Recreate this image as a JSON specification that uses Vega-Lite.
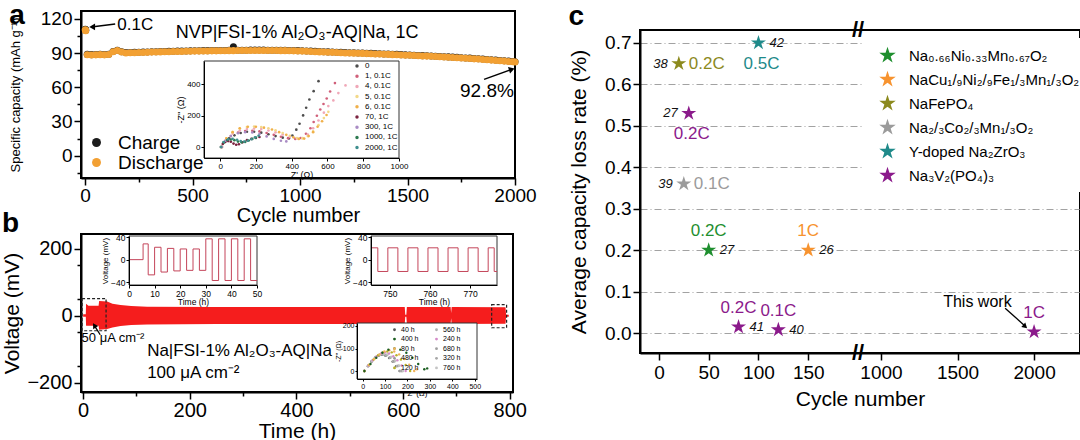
{
  "$schema": "https://vega.github.io/schema/vega-lite/v6.json",
  "background": "white",
  "padding": {"left": 0, "top": 0, "right": 0, "bottom": 0},
  "datasets": {
    "cap": [
      {"cycle":1,"Charge":111,"Discharge":110.5},{"cycle":2,"Charge":110.6,"Discharge":110},{"cycle":3,"Charge":110.2,"Discharge":109.6},
      {"cycle":10,"Charge":88.9,"Discharge":88.6},{"cycle":30,"Charge":88.7,"Discharge":88.4},{"cycle":50,"Charge":88.8,"Discharge":88.5},{"cycle":70,"Charge":89,"Discharge":88.7},{"cycle":90,"Charge":88.8,"Discharge":88.5},{"cycle":110,"Charge":89.1,"Discharge":88.8},{"cycle":130,"Charge":91.5,"Discharge":91.2},{"cycle":150,"Charge":92.6,"Discharge":92.3},{"cycle":170,"Charge":91.3,"Discharge":91},{"cycle":190,"Charge":90.5,"Discharge":90.2},
      {"cycle":210,"Charge":90.6,"Discharge":90.3},{"cycle":230,"Charge":90.7,"Discharge":90.4},{"cycle":250,"Charge":90.8,"Discharge":90.5},{"cycle":270,"Charge":90.9,"Discharge":90.6},{"cycle":290,"Charge":91,"Discharge":90.7},{"cycle":310,"Charge":91.2,"Discharge":90.9},{"cycle":330,"Charge":91.3,"Discharge":91},{"cycle":350,"Charge":91.4,"Discharge":91.1},{"cycle":370,"Charge":91.5,"Discharge":91.2},{"cycle":390,"Charge":91.6,"Discharge":91.3},
      {"cycle":410,"Charge":91.7,"Discharge":91.4},{"cycle":430,"Charge":91.8,"Discharge":91.5},{"cycle":450,"Charge":91.8,"Discharge":91.5},{"cycle":470,"Charge":91.9,"Discharge":91.6},{"cycle":490,"Charge":92,"Discharge":91.7},{"cycle":510,"Charge":92.1,"Discharge":91.8},{"cycle":530,"Charge":92.1,"Discharge":91.8},{"cycle":550,"Charge":92.2,"Discharge":91.9},{"cycle":570,"Charge":92.2,"Discharge":91.9},{"cycle":590,"Charge":92.3,"Discharge":92},
      {"cycle":610,"Charge":92.3,"Discharge":92},{"cycle":630,"Charge":92.4,"Discharge":92.1},{"cycle":650,"Charge":92.4,"Discharge":92.1},{"cycle":670,"Charge":92.5,"Discharge":92.2},{"cycle":690,"Charge":95.5,"Discharge":92.2},{"cycle":710,"Charge":92.6,"Discharge":92.3},{"cycle":730,"Charge":92.6,"Discharge":92.3},{"cycle":750,"Charge":92.6,"Discharge":92.3},{"cycle":770,"Charge":92.7,"Discharge":92.4},{"cycle":790,"Charge":92.7,"Discharge":92.4},
      {"cycle":810,"Charge":92.7,"Discharge":92.4},{"cycle":830,"Charge":92.7,"Discharge":92.4},{"cycle":850,"Charge":92.6,"Discharge":92.3},{"cycle":870,"Charge":92.6,"Discharge":92.3},{"cycle":890,"Charge":92.6,"Discharge":92.3},{"cycle":910,"Charge":92.5,"Discharge":92.2},{"cycle":930,"Charge":92.5,"Discharge":92.2},{"cycle":950,"Charge":92.4,"Discharge":92.1},{"cycle":970,"Charge":92.3,"Discharge":92},{"cycle":990,"Charge":92.2,"Discharge":91.9},
      {"cycle":1010,"Charge":92.1,"Discharge":91.8},{"cycle":1030,"Charge":91.9,"Discharge":91.6},{"cycle":1050,"Charge":91.8,"Discharge":91.5},{"cycle":1070,"Charge":91.6,"Discharge":91.3},{"cycle":1090,"Charge":91.4,"Discharge":91.1},{"cycle":1110,"Charge":91.3,"Discharge":91},{"cycle":1130,"Charge":91.1,"Discharge":90.8},{"cycle":1150,"Charge":91,"Discharge":90.7},{"cycle":1170,"Charge":90.8,"Discharge":90.5},{"cycle":1190,"Charge":90.7,"Discharge":90.4},
      {"cycle":1210,"Charge":90.5,"Discharge":90.2},{"cycle":1230,"Charge":90.4,"Discharge":90.1},{"cycle":1250,"Charge":90.3,"Discharge":90},{"cycle":1270,"Charge":90.2,"Discharge":89.9},{"cycle":1290,"Charge":90.1,"Discharge":89.8},{"cycle":1310,"Charge":89.9,"Discharge":89.6},{"cycle":1330,"Charge":89.8,"Discharge":89.5},{"cycle":1350,"Charge":89.6,"Discharge":89.3},{"cycle":1370,"Charge":89.5,"Discharge":89.2},{"cycle":1390,"Charge":89.3,"Discharge":89},
      {"cycle":1410,"Charge":89.2,"Discharge":88.9},{"cycle":1430,"Charge":89,"Discharge":88.7},{"cycle":1450,"Charge":88.9,"Discharge":88.6},{"cycle":1470,"Charge":88.7,"Discharge":88.4},{"cycle":1490,"Charge":88.5,"Discharge":88.2},{"cycle":1510,"Charge":88.4,"Discharge":88.1},{"cycle":1530,"Charge":88.2,"Discharge":87.9},{"cycle":1550,"Charge":88,"Discharge":87.7},{"cycle":1570,"Charge":87.8,"Discharge":87.5},{"cycle":1590,"Charge":87.7,"Discharge":87.4},
      {"cycle":1610,"Charge":87.5,"Discharge":87.2},{"cycle":1630,"Charge":87.3,"Discharge":87},{"cycle":1650,"Charge":87.1,"Discharge":86.8},{"cycle":1670,"Charge":86.9,"Discharge":86.6},{"cycle":1690,"Charge":86.7,"Discharge":86.4},{"cycle":1710,"Charge":86.5,"Discharge":86.2},{"cycle":1730,"Charge":86.3,"Discharge":86},{"cycle":1750,"Charge":86,"Discharge":85.7},{"cycle":1770,"Charge":85.8,"Discharge":85.5},{"cycle":1790,"Charge":85.6,"Discharge":85.3},
      {"cycle":1810,"Charge":85.3,"Discharge":85},{"cycle":1830,"Charge":85.1,"Discharge":84.8},{"cycle":1850,"Charge":84.8,"Discharge":84.5},{"cycle":1870,"Charge":84.5,"Discharge":84.2},{"cycle":1890,"Charge":84.2,"Discharge":83.9},{"cycle":1910,"Charge":83.9,"Discharge":83.6},{"cycle":1930,"Charge":83.6,"Discharge":83.3},{"cycle":1950,"Charge":83.3,"Discharge":83},{"cycle":1970,"Charge":83,"Discharge":82.7},{"cycle":1990,"Charge":82.7,"Discharge":82.4},{"cycle":2000,"Charge":82.5,"Discharge":82.2}
    ],
    "nyqA": [
      {"cond":"0","zr":10,"zi":0},{"cond":"0","zr":25,"zi":30},{"cond":"0","zr":50,"zi":55},{"cond":"0","zr":80,"zi":75},{"cond":"0","zr":115,"zi":90},{"cond":"0","zr":150,"zi":98},{"cond":"0","zr":190,"zi":98},{"cond":"0","zr":230,"zi":92},{"cond":"0","zr":270,"zi":82},{"cond":"0","zr":310,"zi":70},{"cond":"0","zr":350,"zi":60},{"cond":"0","zr":385,"zi":55},{"cond":"0","zr":404,"zi":74},{"cond":"0","zr":426,"zi":111},{"cond":"0","zr":444,"zi":149},{"cond":"0","zr":464,"zi":202},{"cond":"0","zr":481,"zi":251},{"cond":"0","zr":499,"zi":304},{"cond":"0","zr":523,"zi":357},{"cond":"0","zr":550,"zi":421},
      {"cond":"1, 0.1C","zr":10,"zi":0},{"cond":"1, 0.1C","zr":30,"zi":40},{"cond":"1, 0.1C","zr":60,"zi":70},{"cond":"1, 0.1C","zr":100,"zi":92},{"cond":"1, 0.1C","zr":140,"zi":102},{"cond":"1, 0.1C","zr":180,"zi":104},{"cond":"1, 0.1C","zr":220,"zi":100},{"cond":"1, 0.1C","zr":260,"zi":90},{"cond":"1, 0.1C","zr":300,"zi":78},{"cond":"1, 0.1C","zr":340,"zi":66},{"cond":"1, 0.1C","zr":380,"zi":57},{"cond":"1, 0.1C","zr":420,"zi":52},{"cond":"1, 0.1C","zr":450,"zi":58},{"cond":"1, 0.1C","zr":480,"zi":85},{"cond":"1, 0.1C","zr":505,"zi":120},{"cond":"1, 0.1C","zr":523,"zi":160},{"cond":"1, 0.1C","zr":541,"zi":200},{"cond":"1, 0.1C","zr":560,"zi":240},{"cond":"1, 0.1C","zr":578,"zi":275},{"cond":"1, 0.1C","zr":596,"zi":310},{"cond":"1, 0.1C","zr":615,"zi":355},{"cond":"1, 0.1C","zr":642,"zi":409},
      {"cond":"4, 0.1C","zr":10,"zi":0},{"cond":"4, 0.1C","zr":35,"zi":50},{"cond":"4, 0.1C","zr":70,"zi":85},{"cond":"4, 0.1C","zr":110,"zi":105},{"cond":"4, 0.1C","zr":150,"zi":115},{"cond":"4, 0.1C","zr":190,"zi":118},{"cond":"4, 0.1C","zr":230,"zi":115},{"cond":"4, 0.1C","zr":270,"zi":106},{"cond":"4, 0.1C","zr":310,"zi":94},{"cond":"4, 0.1C","zr":350,"zi":80},{"cond":"4, 0.1C","zr":390,"zi":66},{"cond":"4, 0.1C","zr":430,"zi":55},{"cond":"4, 0.1C","zr":460,"zi":58},{"cond":"4, 0.1C","zr":490,"zi":80},{"cond":"4, 0.1C","zr":520,"zi":120},{"cond":"4, 0.1C","zr":550,"zi":170},{"cond":"4, 0.1C","zr":580,"zi":220},{"cond":"4, 0.1C","zr":605,"zi":262},{"cond":"4, 0.1C","zr":633,"zi":298},{"cond":"4, 0.1C","zr":661,"zi":345},{"cond":"4, 0.1C","zr":701,"zi":394},
      {"cond":"5, 0.1C","zr":10,"zi":0},{"cond":"5, 0.1C","zr":35,"zi":55},{"cond":"5, 0.1C","zr":70,"zi":95},{"cond":"5, 0.1C","zr":110,"zi":118},{"cond":"5, 0.1C","zr":150,"zi":128},{"cond":"5, 0.1C","zr":190,"zi":131},{"cond":"5, 0.1C","zr":230,"zi":128},{"cond":"5, 0.1C","zr":270,"zi":120},{"cond":"5, 0.1C","zr":310,"zi":107},{"cond":"5, 0.1C","zr":350,"zi":90},{"cond":"5, 0.1C","zr":390,"zi":72},{"cond":"5, 0.1C","zr":430,"zi":58},{"cond":"5, 0.1C","zr":460,"zi":55},{"cond":"5, 0.1C","zr":490,"zi":70},{"cond":"5, 0.1C","zr":520,"zi":100},{"cond":"5, 0.1C","zr":550,"zi":140},{"cond":"5, 0.1C","zr":580,"zi":185},{"cond":"5, 0.1C","zr":605,"zi":225},
      {"cond":"6, 0.1C","zr":10,"zi":0},{"cond":"6, 0.1C","zr":35,"zi":55},{"cond":"6, 0.1C","zr":70,"zi":95},{"cond":"6, 0.1C","zr":110,"zi":120},{"cond":"6, 0.1C","zr":155,"zi":130},{"cond":"6, 0.1C","zr":200,"zi":130},{"cond":"6, 0.1C","zr":245,"zi":124},{"cond":"6, 0.1C","zr":290,"zi":112},{"cond":"6, 0.1C","zr":330,"zi":95},{"cond":"6, 0.1C","zr":370,"zi":78},{"cond":"6, 0.1C","zr":410,"zi":62},{"cond":"6, 0.1C","zr":440,"zi":52},{"cond":"6, 0.1C","zr":470,"zi":54},{"cond":"6, 0.1C","zr":495,"zi":70},{"cond":"6, 0.1C","zr":520,"zi":95},{"cond":"6, 0.1C","zr":545,"zi":130},{"cond":"6, 0.1C","zr":570,"zi":165},{"cond":"6, 0.1C","zr":595,"zi":205},
      {"cond":"70, 1C","zr":5,"zi":0},{"cond":"70, 1C","zr":15,"zi":20},{"cond":"70, 1C","zr":30,"zi":34},{"cond":"70, 1C","zr":45,"zi":38},{"cond":"70, 1C","zr":60,"zi":34},{"cond":"70, 1C","zr":75,"zi":22},{"cond":"70, 1C","zr":90,"zi":15},{"cond":"70, 1C","zr":105,"zi":18},{"cond":"70, 1C","zr":125,"zi":30},{"cond":"70, 1C","zr":150,"zi":44},{"cond":"70, 1C","zr":175,"zi":52},{"cond":"70, 1C","zr":200,"zi":58},{"cond":"70, 1C","zr":220,"zi":64},
      {"cond":"300, 1C","zr":10,"zi":0},{"cond":"300, 1C","zr":30,"zi":40},{"cond":"300, 1C","zr":60,"zi":70},{"cond":"300, 1C","zr":100,"zi":88},{"cond":"300, 1C","zr":140,"zi":95},{"cond":"300, 1C","zr":180,"zi":93},{"cond":"300, 1C","zr":220,"zi":83},{"cond":"300, 1C","zr":260,"zi":68},{"cond":"300, 1C","zr":300,"zi":52},{"cond":"300, 1C","zr":340,"zi":40},{"cond":"300, 1C","zr":370,"zi":36},
      {"cond":"1000, 1C","zr":5,"zi":0},{"cond":"1000, 1C","zr":20,"zi":30},{"cond":"1000, 1C","zr":40,"zi":45},{"cond":"1000, 1C","zr":60,"zi":48},{"cond":"1000, 1C","zr":80,"zi":44},{"cond":"1000, 1C","zr":100,"zi":35},{"cond":"1000, 1C","zr":120,"zi":30},{"cond":"1000, 1C","zr":140,"zi":33},{"cond":"1000, 1C","zr":160,"zi":42},{"cond":"1000, 1C","zr":180,"zi":52},{"cond":"1000, 1C","zr":200,"zi":60},
      {"cond":"2000, 1C","zr":5,"zi":0},{"cond":"2000, 1C","zr":20,"zi":32},{"cond":"2000, 1C","zr":45,"zi":50},{"cond":"2000, 1C","zr":70,"zi":52},{"cond":"2000, 1C","zr":95,"zi":46},{"cond":"2000, 1C","zr":115,"zi":38},{"cond":"2000, 1C","zr":135,"zi":35},{"cond":"2000, 1C","zr":155,"zi":40},{"cond":"2000, 1C","zr":175,"zi":50},{"cond":"2000, 1C","zr":195,"zi":62},{"cond":"2000, 1C","zr":215,"zi":72}
    ],
    "band": [
      {"time":0,"high":4,"low":-3},{"time":5,"high":4,"low":-3},{"time":5.5,"high":36,"low":-30},{"time":10,"high":30,"low":-30},{"time":29,"high":30,"low":-30},{"time":30,"high":44,"low":-42},{"time":45,"high":42,"low":-40},{"time":55,"high":36,"low":-35},{"time":70,"high":32,"low":-31},{"time":90,"high":29,"low":-28},{"time":120,"high":27,"low":-26},{"time":250,"high":26,"low":-25},{"time":450,"high":26,"low":-25},{"time":603,"high":26,"low":-25},{"time":604,"high":3,"low":-3},{"time":606,"high":3,"low":-3},{"time":607,"high":26,"low":-25},{"time":689,"high":26,"low":-25},{"time":690,"high":8,"low":-8},{"time":691,"high":26,"low":-25},{"time":792,"high":25,"low":-24},{"time":793,"high":3,"low":-3},{"time":798,"high":3,"low":-3}
    ],
    "wave1": [
      {"time":0,"voltage":0},{"time":5.5,"voltage":28},{"time":7.5,"voltage":-27},{"time":10,"voltage":22},{"time":12.5,"voltage":-22},{"time":15,"voltage":20},{"time":17.5,"voltage":-20},{"time":20,"voltage":19},{"time":22.5,"voltage":-19},{"time":25,"voltage":19},{"time":27.5,"voltage":-19},{"time":30,"voltage":37},{"time":32.5,"voltage":-37},{"time":35,"voltage":37},{"time":37.5,"voltage":-37},{"time":40,"voltage":37},{"time":42.5,"voltage":-37},{"time":45,"voltage":37},{"time":47.5,"voltage":-37},{"time":50,"voltage":-37}
    ],
    "wave2": [
      {"time":745.3,"voltage":21},{"time":747,"voltage":-21},{"time":749.5,"voltage":21},{"time":752,"voltage":-21},{"time":754.5,"voltage":21},{"time":757,"voltage":-21},{"time":759.5,"voltage":21},{"time":762,"voltage":-21},{"time":764.5,"voltage":21},{"time":767,"voltage":-21},{"time":769.5,"voltage":21},{"time":772,"voltage":-21},{"time":774.5,"voltage":21},{"time":776,"voltage":-21},{"time":776.7,"voltage":-21}
    ],
    "nyqB": [
      {"cond":"40 h","zr":8,"zi":0},{"cond":"40 h","zr":24,"zi":22},{"cond":"40 h","zr":39,"zi":42},{"cond":"40 h","zr":55,"zi":58},{"cond":"40 h","zr":71,"zi":68},{"cond":"40 h","zr":87,"zi":72},{"cond":"40 h","zr":102,"zi":68},{"cond":"40 h","zr":118,"zi":58},{"cond":"40 h","zr":134,"zi":42},{"cond":"40 h","zr":149,"zi":22},{"cond":"40 h","zr":165,"zi":0},
      {"cond":"480 h","zr":8,"zi":0},{"cond":"480 h","zr":24,"zi":23},{"cond":"480 h","zr":41,"zi":44},{"cond":"480 h","zr":57,"zi":60},{"cond":"480 h","zr":74,"zi":70},{"cond":"480 h","zr":90,"zi":74},{"cond":"480 h","zr":106,"zi":70},{"cond":"480 h","zr":123,"zi":60},{"cond":"480 h","zr":139,"zi":44},{"cond":"480 h","zr":156,"zi":23},{"cond":"480 h","zr":172,"zi":0},
      {"cond":"560 h","zr":8,"zi":0},{"cond":"560 h","zr":24,"zi":23},{"cond":"560 h","zr":40,"zi":43},{"cond":"560 h","zr":56,"zi":59},{"cond":"560 h","zr":72,"zi":69},{"cond":"560 h","zr":88,"zi":73},{"cond":"560 h","zr":104,"zi":69},{"cond":"560 h","zr":120,"zi":59},{"cond":"560 h","zr":136,"zi":43},{"cond":"560 h","zr":152,"zi":23},{"cond":"560 h","zr":168,"zi":0},
      {"cond":"680 h","zr":8,"zi":0},{"cond":"680 h","zr":25,"zi":23},{"cond":"680 h","zr":41,"zi":44},{"cond":"680 h","zr":58,"zi":61},{"cond":"680 h","zr":75,"zi":71},{"cond":"680 h","zr":92,"zi":75},{"cond":"680 h","zr":108,"zi":71},{"cond":"680 h","zr":125,"zi":61},{"cond":"680 h","zr":142,"zi":44},{"cond":"680 h","zr":158,"zi":23},{"cond":"680 h","zr":175,"zi":0},
      {"cond":"320 h","zr":8,"zi":0},{"cond":"320 h","zr":25,"zi":24},{"cond":"320 h","zr":42,"zi":45},{"cond":"320 h","zr":59,"zi":62},{"cond":"320 h","zr":76,"zi":73},{"cond":"320 h","zr":93,"zi":77},{"cond":"320 h","zr":110,"zi":73},{"cond":"320 h","zr":127,"zi":62},{"cond":"320 h","zr":144,"zi":45},{"cond":"320 h","zr":161,"zi":24},{"cond":"320 h","zr":178,"zi":0},
      {"cond":"760 h","zr":8,"zi":0},{"cond":"760 h","zr":25,"zi":24},{"cond":"760 h","zr":42,"zi":46},{"cond":"760 h","zr":60,"zi":63},{"cond":"760 h","zr":77,"zi":74},{"cond":"760 h","zr":94,"zi":78},{"cond":"760 h","zr":111,"zi":74},{"cond":"760 h","zr":128,"zi":63},{"cond":"760 h","zr":146,"zi":46},{"cond":"760 h","zr":163,"zi":24},{"cond":"760 h","zr":180,"zi":0},
      {"cond":"240 h","zr":8,"zi":0},{"cond":"240 h","zr":26,"zi":25},{"cond":"240 h","zr":45,"zi":48},{"cond":"240 h","zr":63,"zi":66},{"cond":"240 h","zr":82,"zi":78},{"cond":"240 h","zr":100,"zi":82},{"cond":"240 h","zr":118,"zi":78},{"cond":"240 h","zr":137,"zi":66},{"cond":"240 h","zr":155,"zi":48},{"cond":"240 h","zr":174,"zi":25},{"cond":"240 h","zr":192,"zi":0},
      {"cond":"120 h","zr":8,"zi":0},{"cond":"120 h","zr":28,"zi":27},{"cond":"120 h","zr":49,"zi":51},{"cond":"120 h","zr":69,"zi":70},{"cond":"120 h","zr":90,"zi":83},{"cond":"120 h","zr":110,"zi":87},{"cond":"120 h","zr":130,"zi":83},{"cond":"120 h","zr":151,"zi":70},{"cond":"120 h","zr":171,"zi":51},{"cond":"120 h","zr":192,"zi":27},{"cond":"120 h","zr":212,"zi":0},
      {"cond":"80 h","zr":8,"zi":0},{"cond":"80 h","zr":30,"zi":28},{"cond":"80 h","zr":52,"zi":54},{"cond":"80 h","zr":75,"zi":74},{"cond":"80 h","zr":97,"zi":87},{"cond":"80 h","zr":119,"zi":92},{"cond":"80 h","zr":141,"zi":87},{"cond":"80 h","zr":163,"zi":74},{"cond":"80 h","zr":186,"zi":54},{"cond":"80 h","zr":208,"zi":28},{"cond":"80 h","zr":230,"zi":0},{"cond":"80 h","zr":242,"zi":8},
      {"cond":"400 h","zr":8,"zi":0},{"cond":"400 h","zr":35,"zi":31},{"cond":"400 h","zr":61,"zi":59},{"cond":"400 h","zr":88,"zi":81},{"cond":"400 h","zr":115,"zi":95},{"cond":"400 h","zr":142,"zi":100},{"cond":"400 h","zr":168,"zi":95},{"cond":"400 h","zr":195,"zi":81},{"cond":"400 h","zr":222,"zi":59},{"cond":"400 h","zr":248,"zi":31},{"cond":"400 h","zr":275,"zi":8},{"cond":"400 h","zr":288,"zi":12}
    ],
    "stars": [
      {"material":"Na₀.₆₆Ni₀.₃₃Mn₀.₆₇O₂","cycle":50,"rate":0.2,"cRate":"0.2C","ref":"27"},
      {"material":"NaCu₁/₉Ni₂/₉Fe₁/₃Mn₁/₃O₂","cycle":150,"rate":0.2,"cRate":"1C","ref":"26"},
      {"material":"NaFePO₄","cycle":20,"rate":0.65,"cRate":"0.2C","ref":"38"},
      {"material":"Na₂/₃Co₂/₃Mn₁/₃O₂","cycle":25,"rate":0.36,"cRate":"0.1C","ref":"39"},
      {"material":"Y-doped Na₂ZrO₃","cycle":100,"rate":0.7,"cRate":"0.5C","ref":"42"},
      {"material":"Na₃V₂(PO₄)₃","cycle":30,"rate":0.53,"cRate":"0.2C","ref":"27"},
      {"material":"Na₃V₂(PO₄)₃","cycle":80,"rate":0.015,"cRate":"0.2C","ref":"41"},
      {"material":"Na₃V₂(PO₄)₃","cycle":120,"rate":0.008,"cRate":"0.1C","ref":"40"},
      {"material":"Na₃V₂(PO₄)₃","cycle":2000,"rate":0.003,"cRate":"1C","ref":""}
    ]
  },
  "spacing": 29,
  "resolve": {"scale": {"color": "independent"}, "legend": {"color": "independent"}},
  "hconcat": [
    {
      "spacing": -17,
      "resolve": {"scale": {"color": "independent"}, "legend": {"color": "independent"}},
      "vconcat": [
        {
          "width": 434,
          "height": 167,
          "title": {"text": "a", "anchor": "start", "frame": "bounds", "fontSize": 28, "fontWeight": "bold", "offset": -20},
          "resolve": {"scale": {"x": "independent", "y": "independent", "color": "independent"}, "axis": {"x": "independent", "y": "independent"}, "legend": {"color": "independent"}},
          "layer": [
            {
              "layer": [
                {
                  "data": {"name": "cap"},
                  "mark": {"type": "circle", "size": 50, "opacity": 1},
                  "encoding": {
                    "x": {"field": "cycle", "type": "quantitative", "scale": {"domain": [-19, 2000], "nice": false, "zero": false},
                      "axis": {"orient": "bottom", "values": [0,500,1000,1500,2000], "format": "d", "tickSize": 7, "title": "Cycle number", "labelFontSize": 19, "titleFontSize": 20, "labelPadding": 1, "titlePadding": 0, "labelFlush": false, "labelOverlap": false}},
                    "y": {"field": "Charge", "type": "quantitative", "scale": {"domain": [-19.6, 127], "nice": false, "zero": false},
                      "axis": {"orient": "left", "values": [0,30,60,90,120], "tickSize": 7, "title": "Specific capacity (mAh g⁻¹)", "labelFontSize": 19, "titleFontSize": 13, "titlePadding": 18, "labelOverlap": false}},
                    "color": {"datum": "Charge", "type": "nominal", "scale": {"domain": ["Charge", "Discharge"], "range": ["#1c1c1c", "#f2a033"]},
                      "legend": {"orient": "none", "legendX": 6, "legendY": 122, "title": null, "labelFontSize": 19, "symbolType": "circle", "symbolSize": 80, "rowPadding": 0, "labelOffset": 12}}
                  }
                },
                {
                  "data": {"name": "cap"},
                  "mark": {"type": "circle", "size": 50, "opacity": 1},
                  "encoding": {
                    "x": {"field": "cycle", "type": "quantitative"},
                    "y": {"field": "Discharge", "type": "quantitative"},
                    "color": {"datum": "Discharge", "type": "nominal"}
                  }
                },
                {
                  "data": {"values": [{}]},
                  "mark": {"type": "text", "fontSize": 18, "align": "center", "baseline": "middle"},
                  "encoding": {"x": {"datum": 986}, "y": {"datum": 108}, "text": {"value": "NVP|FSI-1% Al₂O₃-AQ|Na, 1C"}}
                },
                {
                  "data": {"values": [{}]},
                  "mark": {"type": "text", "fontSize": 17, "align": "left", "baseline": "middle"},
                  "encoding": {"x": {"datum": 150}, "y": {"datum": 114.5}, "text": {"value": "0.1C"}}
                },
                {
                  "data": {"values": [{}]},
                  "mark": {"type": "rule", "strokeWidth": 1.5, "color": "black"},
                  "encoding": {"x": {"datum": 140}, "x2": {"datum": 38}, "y": {"datum": 115.5}, "y2": {"datum": 113.2}}
                },
                {
                  "data": {"values": [{}]},
                  "mark": {"type": "point", "shape": "triangle-left", "filled": true, "size": 45, "color": "black", "opacity": 1},
                  "encoding": {"x": {"datum": 33}, "y": {"datum": 113}}
                },
                {
                  "data": {"values": [{}]},
                  "mark": {"type": "text", "fontSize": 19, "align": "right", "baseline": "middle"},
                  "encoding": {"x": {"datum": 1995}, "y": {"datum": 57}, "text": {"value": "92.8%"}}
                },
                {
                  "data": {"values": [{}]},
                  "mark": {"type": "rule", "strokeWidth": 1.5, "color": "black"},
                  "encoding": {"x": {"datum": 1856}, "x2": {"datum": 1978}, "y": {"datum": 67}, "y2": {"datum": 75.3}}
                },
                {
                  "data": {"values": [{}]},
                  "mark": {"type": "point", "shape": "triangle-up", "angle": 72, "filled": true, "size": 45, "color": "black", "opacity": 1},
                  "encoding": {"x": {"datum": 1985}, "y": {"datum": 75.8}}
                }
              ]
            },
            {
              "data": {"values": [{}]},
              "mark": {"type": "point", "opacity": 0},
              "encoding": {
                "x": {"datum": 0, "type": "quantitative", "scale": {"domain": [-19, 2000], "nice": false, "zero": false},
                  "axis": {"orient": "bottom", "values": [250,750,1250,1750], "labels": false, "domain": false, "tickSize": 4, "title": null}},
                "y": {"datum": 0, "type": "quantitative", "scale": {"domain": [-19.6, 127], "nice": false, "zero": false},
                  "axis": {"orient": "left", "values": [-15,15,45,75,105], "labels": false, "domain": false, "tickSize": 4, "title": null}}
              }
            },
            {
              "layer": [
                {
                  "data": {"values": [{}]},
                  "mark": {"type": "rect", "fill": "white", "stroke": "#333", "strokeWidth": 1},
                  "encoding": {
                    "x": {"datum": -90, "type": "quantitative", "scale": {"domain": [-90, 1000], "range": [123, 318], "nice": false, "zero": false}},
                    "x2": {"datum": 1000},
                    "y": {"datum": -70, "type": "quantitative", "scale": {"domain": [-70, 550], "range": [147, 50], "nice": false, "zero": false}},
                    "y2": {"datum": 550}
                  }
                },
                {
                  "data": {"name": "nyqA"},
                  "mark": {"type": "point", "filled": true, "size": 7, "opacity": 1},
                  "encoding": {
                    "x": {"field": "zr", "type": "quantitative", "scale": {"domain": [-90, 1000], "range": [123, 318], "nice": false, "zero": false},
                      "axis": {"orient": "bottom", "offset": -20, "values": [0,200,400,600,800,1000], "format": "d", "title": "Z' (Ω)", "labelFontSize": 8, "titleFontSize": 9, "tickSize": 3, "tickWidth": 1, "domainWidth": 1, "labelPadding": 1, "titlePadding": 0, "zindex": 2, "labelFlush": false}},
                    "y": {"field": "zi", "type": "quantitative", "scale": {"domain": [-70, 550], "range": [147, 50], "nice": false, "zero": false},
                      "axis": {"orient": "left", "offset": -123, "values": [0,100,200,300,400,500], "title": "-Z'' (Ω)", "labelFontSize": 8, "titleFontSize": 9, "tickSize": 3, "tickWidth": 1, "domainWidth": 1, "labelPadding": 1, "titlePadding": 1, "zindex": 2}},
                    "color": {"field": "cond", "type": "nominal",
                      "scale": {"domain": ["0","1, 0.1C","4, 0.1C","5, 0.1C","6, 0.1C","70, 1C","300, 1C","1000, 1C","2000, 1C"], "range": ["#4d4d4d","#d0607a","#f0a8b8","#f3d98a","#f0b04a","#7b2340","#a98bc4","#2d7a50","#3f8f8f"]},
                      "legend": {"orient": "none", "legendX": 272, "legendY": 51, "title": null, "labelFontSize": 8, "symbolSize": 12, "symbolType": "circle", "rowPadding": 2.2, "labelOffset": 4}}
                  }
                }
              ]
            }
          ]
        },
        {
          "width": 432,
          "height": 158,
          "title": {"text": "b", "anchor": "start", "frame": "bounds", "fontSize": 28, "fontWeight": "bold", "offset": -5},
          "resolve": {"scale": {"x": "independent", "y": "independent", "color": "independent"}, "axis": {"x": "independent", "y": "independent"}, "legend": {"color": "independent"}},
          "layer": [
            {
              "layer": [
                {
                  "data": {"name": "band"},
                  "mark": {"type": "area", "color": "#f51d1d", "interpolate": "linear", "opacity": 1},
                  "encoding": {
                    "x": {"field": "time", "type": "quantitative", "scale": {"domain": [-4, 806], "nice": false, "zero": false},
                      "axis": {"orient": "bottom", "values": [0,200,400,600,800], "tickSize": 7, "title": "Time (h)", "labelFontSize": 20, "titleFontSize": 21, "labelPadding": 1, "titlePadding": 0, "labelFlush": false, "labelOverlap": false}},
                    "y": {"field": "high", "type": "quantitative", "scale": {"domain": [-228, 244], "nice": false, "zero": false},
                      "axis": {"orient": "left", "values": [-200,-100,0,100,200], "tickSize": 7, "title": "Voltage (mV)", "labelFontSize": 20, "titleFontSize": 21, "titlePadding": 4, "labelOverlap": false}},
                    "y2": {"field": "low"}
                  }
                },
                {
                  "data": {"values": [{}]},
                  "mark": {"type": "rect", "filled": false, "color": "#222", "strokeWidth": 1.2, "strokeDash": [3, 2]},
                  "encoding": {"x": {"datum": -2}, "x2": {"datum": 43}, "y": {"datum": -45}, "y2": {"datum": 51}}
                },
                {
                  "data": {"values": [{}]},
                  "mark": {"type": "rect", "filled": false, "color": "#222", "strokeWidth": 1.2, "strokeDash": [3, 2]},
                  "encoding": {"x": {"datum": 766}, "x2": {"datum": 794}, "y": {"datum": -36}, "y2": {"datum": 33}}
                },
                {
                  "data": {"values": [{}]},
                  "mark": {"type": "text", "fontSize": 13, "align": "center", "baseline": "middle"},
                  "encoding": {"x": {"datum": 56}, "y": {"datum": -66}, "text": {"value": "50 μA cm⁻²"}}
                },
                {
                  "data": {"values": [{}]},
                  "mark": {"type": "text", "fontSize": 17, "align": "left", "baseline": "middle"},
                  "encoding": {"x": {"datum": 120}, "y": {"datum": -107}, "text": {"value": "Na|FSI-1% Al₂O₃-AQ|Na"}}
                },
                {
                  "data": {"values": [{}]},
                  "mark": {"type": "text", "fontSize": 17, "align": "left", "baseline": "middle"},
                  "encoding": {"x": {"datum": 120}, "y": {"datum": -170}, "text": {"value": "100 μA cm⁻²"}}
                },
                {
                  "data": {"values": [{}]},
                  "mark": {"type": "rule", "strokeWidth": 1.3, "color": "black"},
                  "encoding": {"x": {"datum": 32}, "x2": {"datum": 22}, "y": {"datum": -57}, "y2": {"datum": -32}}
                },
                {
                  "data": {"values": [{}]},
                  "mark": {"type": "point", "shape": "triangle-up", "angle": -32, "filled": true, "size": 35, "color": "black", "opacity": 1},
                  "encoding": {"x": {"datum": 21}, "y": {"datum": -29}}
                }
              ]
            },
            {
              "data": {"values": [{}]},
              "mark": {"type": "point", "opacity": 0},
              "encoding": {
                "x": {"datum": 0, "type": "quantitative", "scale": {"domain": [-4, 806], "nice": false, "zero": false},
                  "axis": {"orient": "bottom", "values": [100,300,500,700], "labels": false, "domain": false, "tickSize": 4, "title": null}},
                "y": {"datum": 0, "type": "quantitative", "scale": {"domain": [-228, 244], "nice": false, "zero": false},
                  "axis": {"orient": "left", "values": [-150,-50,50,150], "labels": false, "domain": false, "tickSize": 4, "title": null}}
              }
            },
            {
              "layer": [
                {
                  "data": {"values": [{}]},
                  "mark": {"type": "rect", "fill": "white", "stroke": "#333", "strokeWidth": 1},
                  "encoding": {
                    "x": {"datum": 0, "type": "quantitative", "scale": {"domain": [0, 50], "range": [48, 176], "nice": false, "zero": false}},
                    "x2": {"datum": 50},
                    "y": {"datum": -45, "type": "quantitative", "scale": {"domain": [-45, 42], "range": [51, 2], "nice": false, "zero": false}},
                    "y2": {"datum": 42}
                  }
                },
                {
                  "data": {"name": "wave1"},
                  "mark": {"type": "line", "interpolate": "step-after", "color": "#c4455a", "strokeWidth": 1},
                  "encoding": {
                    "x": {"field": "time", "type": "quantitative", "scale": {"domain": [0, 50], "range": [48, 176], "nice": false, "zero": false},
                      "axis": {"orient": "bottom", "offset": -107, "values": [0,10,20,30,40,50], "title": "Time (h)", "labelFontSize": 8.5, "titleFontSize": 8.5, "tickSize": 3, "tickWidth": 1, "domainWidth": 1, "labelPadding": 1, "titlePadding": 0, "zindex": 2, "labelFlush": false}},
                    "y": {"field": "voltage", "type": "quantitative", "scale": {"domain": [-45, 42], "range": [51, 2], "nice": false, "zero": false},
                      "axis": {"orient": "left", "offset": -48, "values": [-40,-20,0,20,40], "title": "Voltage (mV)", "labelFontSize": 8.5, "titleFontSize": 8, "tickSize": 3, "tickWidth": 1, "domainWidth": 1, "labelPadding": 1, "titlePadding": 1, "zindex": 2}}
                  }
                }
              ]
            },
            {
              "layer": [
                {
                  "data": {"values": [{}]},
                  "mark": {"type": "rect", "fill": "white", "stroke": "#333", "strokeWidth": 1},
                  "encoding": {
                    "x": {"datum": 745.3, "type": "quantitative", "scale": {"domain": [745.3, 776.7], "range": [290, 416], "nice": false, "zero": false}},
                    "x2": {"datum": 776.7},
                    "y": {"datum": -45, "type": "quantitative", "scale": {"domain": [-45, 42], "range": [51, 2], "nice": false, "zero": false}},
                    "y2": {"datum": 42}
                  }
                },
                {
                  "data": {"name": "wave2"},
                  "mark": {"type": "line", "interpolate": "step-after", "color": "#c4455a", "strokeWidth": 1},
                  "encoding": {
                    "x": {"field": "time", "type": "quantitative", "scale": {"domain": [745.3, 776.7], "range": [290, 416], "nice": false, "zero": false},
                      "axis": {"orient": "bottom", "offset": -107, "values": [750,760,770], "format": "d", "title": "Time (h)", "labelFontSize": 8.5, "titleFontSize": 8.5, "tickSize": 3, "tickWidth": 1, "domainWidth": 1, "labelPadding": 1, "titlePadding": 0, "zindex": 2, "labelFlush": false}},
                    "y": {"field": "voltage", "type": "quantitative", "scale": {"domain": [-45, 42], "range": [51, 2], "nice": false, "zero": false},
                      "axis": {"orient": "left", "offset": -290, "values": [-40,-20,0,20,40], "title": "Voltage (mV)", "labelFontSize": 8.5, "titleFontSize": 8, "tickSize": 3, "tickWidth": 1, "domainWidth": 1, "labelPadding": 1, "titlePadding": 1, "zindex": 2}}
                  }
                }
              ]
            },
            {
              "layer": [
                {
                  "data": {"values": [{}]},
                  "mark": {"type": "rect", "fill": "white", "stroke": "#333", "strokeWidth": 1},
                  "encoding": {
                    "x": {"datum": -25, "type": "quantitative", "scale": {"domain": [-25, 510], "range": [276, 396], "nice": false, "zero": false}},
                    "x2": {"datum": 510},
                    "y": {"datum": -35, "type": "quantitative", "scale": {"domain": [-35, 213], "range": [145, 89], "nice": false, "zero": false}},
                    "y2": {"datum": 213}
                  }
                },
                {
                  "data": {"name": "nyqB"},
                  "mark": {"type": "point", "filled": true, "size": 6, "opacity": 1},
                  "encoding": {
                    "x": {"field": "zr", "type": "quantitative", "scale": {"domain": [-25, 510], "range": [276, 396], "nice": false, "zero": false},
                      "axis": {"orient": "bottom", "offset": -13, "values": [0,100,200,300,400,500], "title": "Z' (Ω)", "labelFontSize": 7, "titleFontSize": 8, "tickSize": 2, "tickWidth": 1, "domainWidth": 1, "labelPadding": 1, "titlePadding": 0, "zindex": 2, "labelFlush": false}},
                    "y": {"field": "zi", "type": "quantitative", "scale": {"domain": [-35, 213], "range": [145, 89], "nice": false, "zero": false},
                      "axis": {"orient": "left", "offset": -276, "values": [0,50,100,150,200], "title": "-Z'' (Ω)", "labelFontSize": 7, "titleFontSize": 7, "tickSize": 2, "tickWidth": 1, "domainWidth": 1, "labelPadding": 1, "titlePadding": 1, "zindex": 2}},
                    "color": {"field": "cond", "type": "nominal",
                      "scale": {"domain": ["40 h","400 h","80 h","480 h","120 h","560 h","240 h","680 h","320 h","760 h"], "range": ["#555555","#1b5e20","#f2b45c","#9a9a9a","#b8b02a","#b0b0b0","#d58bc9","#a0a0a0","#a8a8a8","#c4c4c4"]},
                      "legend": {"orient": "none", "legendX": 310, "legendY": 92, "title": null, "columns": 2, "columnPadding": 14, "labelFontSize": 7, "symbolSize": 8, "symbolType": "circle", "rowPadding": 1.6, "labelOffset": 3}}
                  }
                }
              ]
            }
          ]
        }
      ]
    },
    {
      "spacing": -13,
      "vconcat": [
        {
          "width": 440,
          "height": 1,
          "view": {"stroke": null},
          "data": {"values": [{}]},
          "mark": {"type": "point", "opacity": 0},
          "encoding": {}
        },
        {
          "width": 440,
          "height": 323,
          "title": {"text": "c", "anchor": "start", "frame": "bounds", "fontSize": 28, "fontWeight": "bold", "offset": -12},
          "data": {"name": "stars"},
          "layer": [
            {
              "mark": {"type": "point", "shape": "M0,-1L0.225,-0.309L0.951,-0.309L0.363,0.118L0.588,0.809L0,0.382L-0.588,0.809L-0.363,0.118L-0.951,-0.309L-0.225,-0.309Z", "filled": true, "size": 250, "opacity": 1},
              "encoding": {
                "x": {"field": "cycle", "type": "quantitative", "scale": {"domain": [-19, 200, 850, 2300], "range": [0, 218, 218, 440], "nice": false, "zero": false},
                  "axis": {"orient": "bottom", "values": [0,25,50,75,100,125,150,175,1000,1250,1500,1750,2000,2250], "format": "d", "labelExpr": "(datum.value <= 150 && datum.value % 50 == 0) || (datum.value >= 1000 && datum.value % 500 == 0) ? datum.label : ''", "labelFontSize": 19, "tickSize": {"condition": {"test": "(datum.value <= 150 && datum.value % 50 == 0) || (datum.value >= 1000 && datum.value % 500 == 0)", "value": 7}, "value": 4}, "title": "Cycle number", "titleFontSize": 21, "labelPadding": 3, "titlePadding": 6, "labelFlush": false, "labelOverlap": false}},
                "y": {"field": "rate", "type": "quantitative", "scale": {"domain": [-0.048, 0.731], "nice": false, "zero": false},
                  "axis": {"orient": "left", "values": [0,0.05,0.1,0.15,0.2,0.25,0.3,0.35,0.4,0.45,0.5,0.55,0.6,0.65,0.7], "format": ".1f", "labelExpr": "round(datum.value*100) % 10 == 0 ? datum.label : ''", "labelFontSize": 19, "tickSize": {"condition": {"test": "round(datum.value*100) % 10 == 0", "value": 7}, "value": 4}, "title": "Average capacity loss rate (%)", "titleFontSize": 21, "titlePadding": 15, "labelOverlap": false, "grid": true, "gridColor": "#8a8a8a", "gridWidth": 0.8, "gridDash": [7, 3, 1, 3], "gridOpacity": {"condition": {"test": "round(datum.value*100) % 10 == 0", "value": 1}, "value": 0}}},
                "color": {"field": "material", "type": "nominal",
                  "scale": {"domain": ["Na₀.₆₆Ni₀.₃₃Mn₀.₆₇O₂","NaCu₁/₉Ni₂/₉Fe₁/₃Mn₁/₃O₂","NaFePO₄","Na₂/₃Co₂/₃Mn₁/₃O₂","Y-doped Na₂ZrO₃","Na₃V₂(PO₄)₃"], "range": ["#1f8f2f","#f7932f","#8c8a1e","#9b9b9b","#1f8a8a","#8b1a8b"]},
                  "legend": {"orient": "none", "legendX": 224, "legendY": 27, "padding": 8, "fillColor": "white", "title": null, "labelFontSize": 15, "labelLimit": 400, "symbolSize": 300, "symbolType": "M0,-1L0.225,-0.309L0.951,-0.309L0.363,0.118L0.588,0.809L0,0.382L-0.588,0.809L-0.363,0.118L-0.951,-0.309L-0.225,-0.309Z", "symbolOffset": 6, "rowPadding": 6, "labelOffset": 12}}
              }
            },
            {
              "transform": [{"filter": "indexof([50,150,80,120,2000], datum.cycle) >= 0"}],
              "mark": {"type": "text", "fontSize": 17, "dy": -19, "align": "center", "baseline": "middle"},
              "encoding": {"x": {"field": "cycle", "type": "quantitative"}, "y": {"field": "rate", "type": "quantitative"}, "text": {"field": "cRate"}, "color": {"field": "material", "type": "nominal", "legend": null}}
            },
            {
              "transform": [{"filter": "indexof([100,30], datum.cycle) >= 0"}],
              "mark": {"type": "text", "fontSize": 17, "dy": 21, "dx": 3, "align": "center", "baseline": "middle"},
              "encoding": {"x": {"field": "cycle", "type": "quantitative"}, "y": {"field": "rate", "type": "quantitative"}, "text": {"field": "cRate"}, "color": {"field": "material", "type": "nominal", "legend": null}}
            },
            {
              "transform": [{"filter": "indexof([20,25], datum.cycle) >= 0"}],
              "mark": {"type": "text", "fontSize": 17, "dx": 10, "align": "left", "baseline": "middle"},
              "encoding": {"x": {"field": "cycle", "type": "quantitative"}, "y": {"field": "rate", "type": "quantitative"}, "text": {"field": "cRate"}, "color": {"field": "material", "type": "nominal", "legend": null}}
            },
            {
              "transform": [{"filter": "indexof([100,50,150,80,120], datum.cycle) >= 0"}],
              "mark": {"type": "text", "fontSize": 13, "fontStyle": "italic", "dx": 11, "align": "left", "baseline": "middle", "color": "#111"},
              "encoding": {"x": {"field": "cycle", "type": "quantitative"}, "y": {"field": "rate", "type": "quantitative"}, "text": {"field": "ref"}}
            },
            {
              "transform": [{"filter": "indexof([20,30,25], datum.cycle) >= 0"}],
              "mark": {"type": "text", "fontSize": 13, "fontStyle": "italic", "dx": -11, "align": "right", "baseline": "middle", "color": "#111"},
              "encoding": {"x": {"field": "cycle", "type": "quantitative"}, "y": {"field": "rate", "type": "quantitative"}, "text": {"field": "ref"}}
            },
            {
              "data": {"values": [{}]},
              "mark": {"type": "text", "fontSize": 16, "align": "center", "baseline": "middle"},
              "encoding": {"x": {"datum": 1630}, "y": {"datum": 0.074}, "text": {"value": "This work"}}
            },
            {
              "data": {"values": [{}]},
              "mark": {"type": "rule", "strokeWidth": 1.3, "color": "black"},
              "encoding": {"x": {"datum": 1811}, "x2": {"datum": 1935}, "y": {"datum": 0.06}, "y2": {"datum": 0.019}}
            },
            {
              "data": {"values": [{}]},
              "mark": {"type": "point", "shape": "triangle-up", "angle": 132, "filled": true, "size": 35, "color": "black", "opacity": 1},
              "encoding": {"x": {"datum": 1942}, "y": {"datum": 0.016}}
            },
            {
              "data": {"values": [{}]},
              "mark": {"type": "text", "fontSize": 22, "fontWeight": "bold", "align": "center", "baseline": "middle"},
              "encoding": {"x": {"datum": 200}, "y": {"datum": 0.731}, "text": {"value": "//"}}
            },
            {
              "data": {"values": [{}]},
              "mark": {"type": "text", "fontSize": 22, "fontWeight": "bold", "align": "center", "baseline": "middle"},
              "encoding": {"x": {"datum": 200}, "y": {"datum": -0.048}, "text": {"value": "//"}}
            }
          ]
        }
      ]
    }
  ],
  "config": {
    "font": "Liberation Sans",
    "view": {"stroke": "#000", "strokeWidth": 2},
    "axis": {"labelFont": "Liberation Sans", "titleFont": "Liberation Sans", "titleFontWeight": "normal", "domainColor": "#000", "tickColor": "#000", "labelColor": "#000", "titleColor": "#000", "domainWidth": 2, "tickWidth": 1.5, "grid": false},
    "legend": {"labelFont": "Liberation Sans", "labelColor": "#000"},
    "text": {"font": "Liberation Sans", "color": "#000"},
    "title": {"font": "Liberation Sans", "color": "#000"}
  }
}
